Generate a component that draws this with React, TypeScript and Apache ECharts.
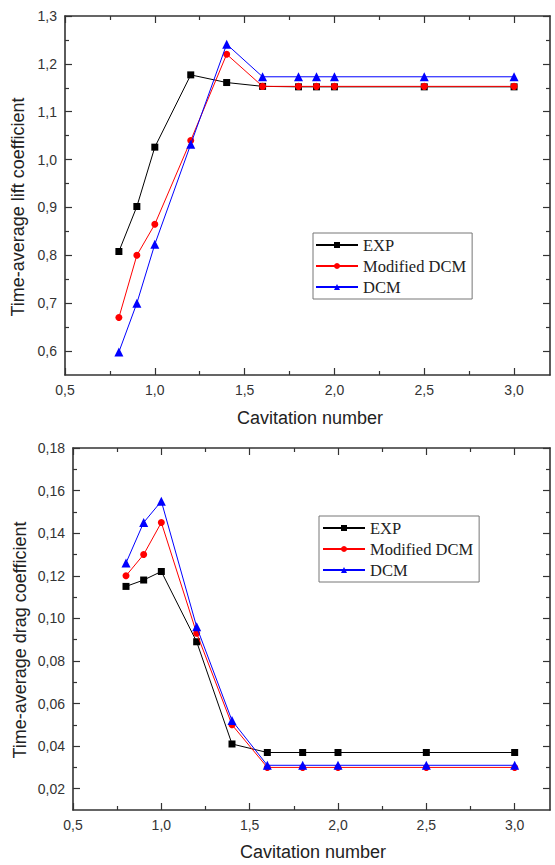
import React, { useEffect, useRef } from 'react';
import * as echarts from 'echarts';

// ---------- data ----------
const liftX = [0.8, 0.9, 1.0, 1.2, 1.4, 1.6, 1.8, 1.9, 2.0, 2.5, 3.0];
const liftEXP = [0.808, 0.902, 1.026, 1.177, 1.161, 1.153, 1.152, 1.152, 1.152, 1.152, 1.152];
const liftModDCM = [0.67, 0.8, 0.865, 1.04, 1.22, 1.153, 1.153, 1.153, 1.153, 1.153, 1.153];
const liftDCM = [0.598, 0.7, 0.823, 1.032, 1.241, 1.173, 1.173, 1.173, 1.173, 1.173, 1.173];

const dragX = [0.8, 0.9, 1.0, 1.2, 1.4, 1.6, 1.8, 2.0, 2.5, 3.0];
const dragEXP = [0.115, 0.118, 0.122, 0.089, 0.041, 0.037, 0.037, 0.037, 0.037, 0.037];
const dragModDCM = [0.12, 0.13, 0.145, 0.093, 0.05, 0.03, 0.03, 0.03, 0.03, 0.03];
const dragDCM = [0.126, 0.145, 0.155, 0.096, 0.052, 0.031, 0.031, 0.031, 0.031, 0.031];

const seriesNames = ['EXP', 'Modified DCM', 'DCM'];

// tick values
const xMajor = [0.5, 1.0, 1.5, 2.0, 2.5, 3.0];
const xMinor = [0.75, 1.25, 1.75, 2.25, 2.75];
const liftYMajor = [0.6, 0.7, 0.8, 0.9, 1.0, 1.1, 1.2, 1.3];
const liftYMinor = [0.65, 0.75, 0.85, 0.95, 1.05, 1.15, 1.25];
const dragYMajor = [0.02, 0.04, 0.06, 0.08, 0.1, 0.12, 0.14, 0.16, 0.18];
const dragYMinor = [0.03, 0.05, 0.07, 0.09, 0.11, 0.13, 0.15, 0.17];

const xTitle = 'Cavitation number';
const liftTitle = 'Time-average lift coefficient';
const dragTitle = 'Time-average drag coefficient';

const SANS = '"Liberation Sans", Arial, sans-serif';
const SERIF = '"Liberation Serif", "Times New Roman", serif';
const FRAME = '#333';

function axis(
  gridIndex: number,
  position: string,
  min: number,
  max: number,
  ticks: number[],
  len: number,
  withLine: boolean,
  labelDecimals: number | null
) {
  return {
    type: 'value',
    gridIndex,
    position,
    min,
    max,
    axisLine: { show: withLine, onZero: false, lineStyle: { color: FRAME, width: 1.6 } },
    axisTick: {
      show: true,
      inside: true,
      length: len,
      customValues: ticks,
      lineStyle: { color: FRAME, width: 1.2 },
    },
    axisLabel:
      labelDecimals !== null
        ? {
            show: true,
            customValues: ticks,
            formatter: (v: number) => v.toFixed(labelDecimals).replace('.', ','),
            fontFamily: SANS,
            fontSize: 14,
            color: '#333',
            margin: 8,
          }
        : { show: false },
    splitLine: { show: false },
    axisPointer: { show: false },
  };
}

function axesFor(gridIndex: number, kind: 'x' | 'y', min: number, max: number, major: number[], minor: number[], dec: number) {
  const p1 = kind === 'x' ? 'bottom' : 'left';
  const p2 = kind === 'x' ? 'top' : 'right';
  return [
    axis(gridIndex, p1, min, max, major, 7, true, dec),
    axis(gridIndex, p1, min, max, minor, 4, false, null),
    axis(gridIndex, p2, min, max, major, 7, true, null),
    axis(gridIndex, p2, min, max, minor, 4, false, null),
  ];
}

const colors = ['#000000', '#ff0000', '#0000ff'];
const symbols = ['rect', 'circle', 'triangle'];
const sizes = [7, 7, 9];

function mkSeries(idx: number, xs: number[], ys: number[], axisIndex: number) {
  return {
    type: 'line',
    name: seriesNames[idx],
    xAxisIndex: axisIndex,
    yAxisIndex: axisIndex,
    data: xs.map((v, i) => [v, ys[i]]),
    symbol: symbols[idx],
    symbolSize: sizes[idx],
    showSymbol: true,
    lineStyle: { color: colors[idx], width: 1 },
    itemStyle: { color: colors[idx] },
    z: 2 + idx,
  };
}

function legend(left: number, top: number, padLeft: number) {
  return {
    left,
    top,
    orient: 'vertical',
    data: seriesNames,
    itemWidth: 42,
    itemHeight: 7.5,
    itemGap: 1,
    padding: [2, 6, 2, padLeft],
    borderColor: '#777',
    borderWidth: 1,
    selectedMode: false,
    textStyle: { fontFamily: SERIF, fontSize: 16.5, color: '#222', lineHeight: 20 },
  };
}

function title(text: string, x: number, y: number, rotate: boolean) {
  return {
    type: 'text',
    x,
    y,
    rotation: rotate ? Math.PI / 2 : 0,
    style: {
      text,
      fontFamily: SANS,
      fontSize: 18,
      fill: '#222',
      align: 'center',
      verticalAlign: 'middle',
      textAlign: 'center',
      textVerticalAlign: 'middle',
    },
  };
}

export default function App() {
  const ref = useRef<HTMLDivElement>(null);
  useEffect(() => {
    if (!ref.current) return;
    const chart = echarts.init(ref.current, undefined, { renderer: 'svg' });
    const option: any = {
      animation: false,
      backgroundColor: '#ffffff',
      grid: [
        { left: 65, top: 16, right: 5, height: 359 },
        { left: 73, top: 448, right: 5, height: 362 },
      ],
      xAxis: [
        ...axesFor(0, 'x', 0.5, 3.2, xMajor, xMinor, 1),
        ...axesFor(1, 'x', 0.5, 3.2, xMajor, xMinor, 1),
      ],
      yAxis: [
        ...axesFor(0, 'y', 0.55, 1.3, liftYMajor, liftYMinor, 1),
        ...axesFor(1, 'y', 0.01, 0.18, dragYMajor, dragYMinor, 2),
      ],
      legend: [legend(313, 233, 2), legend(319, 516, 3)],
      series: [
        mkSeries(0, liftX, liftEXP, 0),
        mkSeries(1, liftX, liftModDCM, 0),
        mkSeries(2, liftX, liftDCM, 0),
        mkSeries(0, dragX, dragEXP, 4),
        mkSeries(1, dragX, dragModDCM, 4),
        mkSeries(2, dragX, dragDCM, 4),
      ],
      graphic: [
        title(xTitle, 310, 418, false),
        title(xTitle, 313, 852, false),
        title(liftTitle, 18, 207, true),
        title(dragTitle, 20, 640, true),
      ],
    };
    chart.setOption(option);
    return () => chart.dispose();
  }, []);
  return <div ref={ref} style={{ position: 'absolute', left: 0, top: 0, width: 555, height: 865 }} />;
}
